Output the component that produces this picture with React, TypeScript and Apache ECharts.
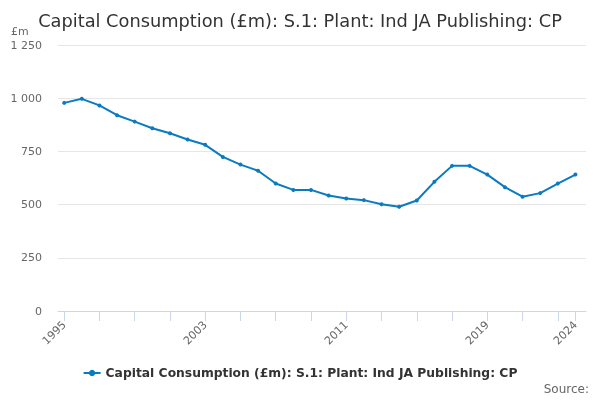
import React, { useEffect, useRef } from 'react';
import * as echarts from 'echarts';

const years = [
  1995, 1996, 1997, 1998, 1999, 2000, 2001, 2002, 2003, 2004,
  2005, 2006, 2007, 2008, 2009, 2010, 2011, 2012, 2013, 2014,
  2015, 2016, 2017, 2018, 2019, 2020, 2021, 2022, 2023, 2024,
];
const values = [
  978, 997, 966, 920, 890, 859, 835, 806, 781, 724,
  688, 659, 599, 569, 569, 543, 529, 521, 502, 490,
  519, 607, 682, 682, 641, 582, 537, 554, 599, 641,
];
const tickYears = [
  1995, 1997, 1999, 2001, 2003, 2005, 2007, 2009, 2011, 2013,
  2015, 2017, 2019, 2021, 2023, 2024,
];
const labelYears = [1995, 2003, 2011, 2019, 2024];
const seriesName = 'Capital Consumption (£m): S.1: Plant: Ind JA Publishing: CP';

const FONT = 'DejaVu Sans';

const App: React.FC = () => {
  const chartRef = useRef<HTMLDivElement | null>(null);

  useEffect(() => {
    if (!chartRef.current) return;
    const chart = echarts.init(chartRef.current, undefined, { renderer: 'svg' });

    chart.setOption({
      animation: false,
      textStyle: { fontFamily: FONT },
      title: {
        text: seriesName,
        left: 'center',
        top: 6,
        textStyle: { fontFamily: FONT, fontSize: 17.8, fontWeight: 'normal', color: '#333333' },
      },
      grid: { left: 58, right: 14, top: 45, bottom: 89 },
      legend: {
        bottom: 16,
        left: 'center',
        itemWidth: 17,
        itemHeight: 8,
        itemGap: 6,
        data: [seriesName],
        textStyle: { fontFamily: FONT, fontSize: 12.3, fontWeight: 'bold', color: '#333333' },
      },
      xAxis: {
        type: 'value',
        min: 1994.65,
        max: 2024.6,
        splitLine: { show: false },
        axisLine: { show: true, lineStyle: { color: '#ccd6eb' } },
        axisTick: { show: true, length: 10, lineStyle: { color: '#ccd6eb' }, customValues: tickYears },
        axisLabel: {
          customValues: labelYears,
          rotate: 45,
          color: '#666666',
          fontSize: 11,
          margin: 12,
          formatter: (v: number) => String(v),
        },
      },
      yAxis: {
        type: 'value',
        min: 0,
        max: 1250,
        interval: 250,
        axisLine: { show: false },
        axisTick: { show: false },
        splitLine: { lineStyle: { color: '#e6e6e6' } },
        axisLabel: {
          color: '#666666',
          fontSize: 11,
          margin: 16,
          formatter: (v: number) => String(v).replace(/\B(?=(\d{3})+(?!\d))/g, ' '),
        },
      },
      graphic: [
        {
          type: 'text',
          left: 11,
          top: 26,
          style: { text: '£m', fontFamily: FONT, fontSize: 11, fill: '#666666' },
        },
        {
          type: 'text',
          right: 11,
          top: 383,
          style: { text: 'Source:', fontFamily: FONT, fontSize: 12, fill: '#666666' },
        },
      ],
      series: [
        {
          name: seriesName,
          type: 'line',
          data: years.map((y, i) => [y, values[i]]),
          symbol: 'circle',
          symbolSize: 4,
          itemStyle: { color: '#0a7bc1' },
          lineStyle: { color: '#0a7bc1', width: 2 },
        },
      ],
    });

    return () => {
      chart.dispose();
    };
  }, []);

  return (
    <div
      ref={chartRef}
      style={{ position: 'fixed', left: 0, top: 0, width: '600px', height: '400px' }}
    />
  );
};

export default App;
